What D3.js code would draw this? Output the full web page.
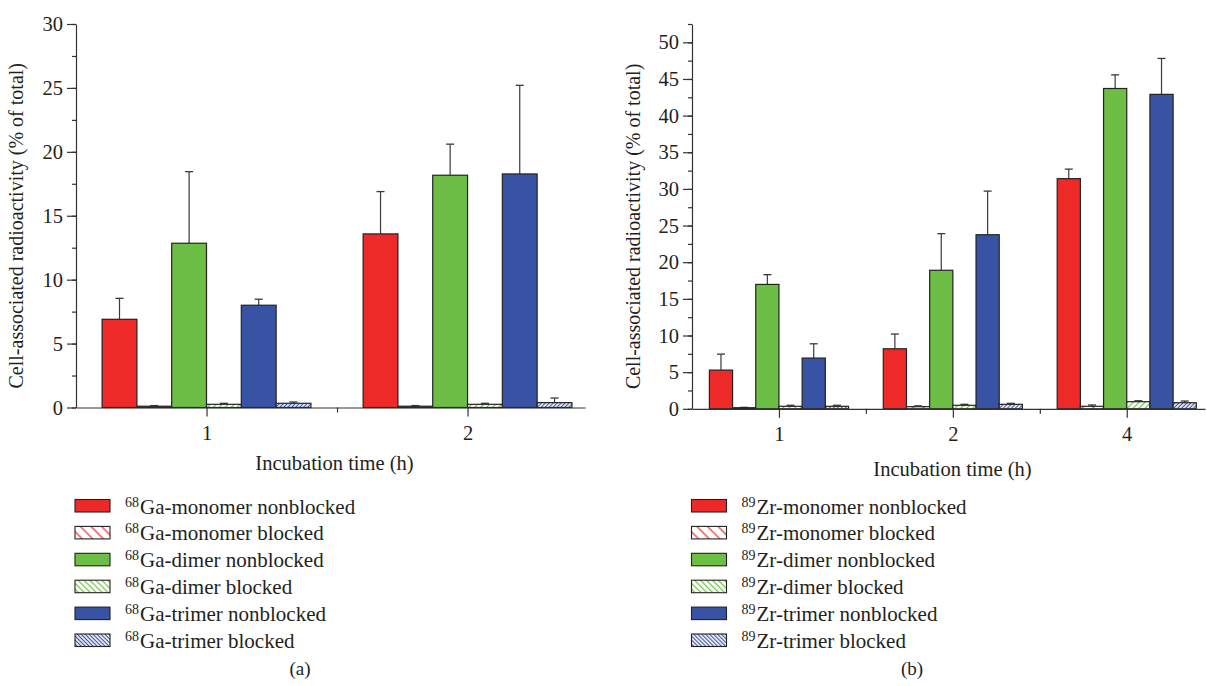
<!DOCTYPE html>
<html>
<head>
<meta http-equiv="content-Type" content="text/html; charset=utf-8"/>
<style>
  body { margin: 0; background: #fff; }
  text { font-family: "Liberation Serif", "Times New Roman", serif; fill: #231f20; }
  .axis path, .axis line { stroke: #333; stroke-width: 1.2; }
</style>
</head>
<body>
<div id="fig"></div>

<script src="https://cdn.jsdelivr.net/npm/d3@7"></script>
<script>

// ---------- data ----------

var seriesNames = ["monomer nonblocked", "monomer blocked",
                   "dimer nonblocked", "dimer blocked",
                   "trimer nonblocked", "trimer blocked"];

// panel (a): 68Ga
var gaTimes = ["1", "2"];
var gaMean = [
  [6.9, 0.1, 12.85, 0.25, 8.0, 0.33],
  [13.58, 0.1, 18.17, 0.25, 18.27, 0.38]
];
var gaErr = [
  [8.54, 0.15, 18.45, 0.33, 8.47, 0.43],
  [16.89, 0.15, 20.6, 0.33, 25.2, 0.74]
];
var gaTicks = [0, 5, 10, 15, 20, 25, 30];

// panel (b): 89Zr
var zrTimes = ["1", "2", "4"];
var zrMean = [
  [5.28, 0.15, 16.97, 0.34, 6.92, 0.34],
  [8.19, 0.29, 18.9, 0.48, 23.75, 0.61],
  [31.4, 0.34, 43.7, 0.97, 42.9, 0.83]
];
var zrErr = [
  [7.46, 0.2, 18.3, 0.48, 8.87, 0.48],
  [10.2, 0.4, 23.9, 0.61, 29.7, 0.75],
  [32.7, 0.52, 45.56, 1.1, 47.8, 1.06]
];
var zrTicks = [0, 5, 10, 15, 20, 25, 30, 35, 40, 45, 50];

var colors = ["#ee2a29", "#ee2a29", "#6dbe45", "#6dbe45", "#3953a4", "#3953a4"];
var hatched = [false, true, false, true, false, true];
var hatchGap = [0, 7.5, 0, 4.2, 0, 2.8];

// ---------- svg ----------

var svg = d3.select("#fig").append("svg")
    .attr("width", 1207)
    .attr("height", 686);

var defs = svg.append("defs");

// hatch patterns: "/" in bars, "\" in legend keys
function makeHatch(id, color, gap, angle) {
  var p = defs.append("pattern")
      .attr("id", id)
      .attr("patternUnits", "userSpaceOnUse")
      .attr("width", gap)
      .attr("height", gap)
      .attr("patternTransform", "rotate(" + angle + ")");
  p.append("rect").attr("width", gap).attr("height", gap).attr("fill", "#fff");
  p.append("line")
      .attr("x1", gap / 2).attr("y1", 0)
      .attr("x2", gap / 2).attr("y2", gap)
      .attr("stroke", color)
      .attr("stroke-width", 1.2);
}
seriesNames.forEach(function(s, j) {
  if (hatched[j]) {
    makeHatch("bar" + j, colors[j], hatchGap[j], 45);
    makeHatch("leg" + j, colors[j], hatchGap[j], -45);
  }
});

function fillFor(j, kind) {
  return hatched[j] ? "url(#" + kind + j + ")" : colors[j];
}

// ---------- one panel ----------

function panel(opt) {
  var g = svg.append("g");
  var n = opt.times.length;

  var x = d3.scaleLinear()
      .domain([-0.5, opt.xmax])
      .range([opt.left, opt.right]);
  var y = d3.scaleLinear()
      .domain([0, opt.ymax])
      .range([opt.bottom, opt.top]);

  var groupW = 0.8;
  var barW = groupW / seriesNames.length;

  // bars
  opt.mean.forEach(function(row, i) {
    row.forEach(function(v, j) {
      var x0 = x(i - groupW / 2 + j * barW),
          x1 = x(i - groupW / 2 + (j + 1) * barW);
      // error bar (upper only)
      var xc = (x0 + x1) / 2;
      g.append("line")
          .attr("x1", xc).attr("x2", xc)
          .attr("y1", y(v)).attr("y2", y(opt.err[i][j]))
          .attr("stroke", "#3a3a3a").attr("stroke-width", 1.2);
      g.append("line")
          .attr("x1", xc - 4).attr("x2", xc + 4)
          .attr("y1", y(opt.err[i][j])).attr("y2", y(opt.err[i][j]))
          .attr("stroke", "#3a3a3a").attr("stroke-width", 1.3);
      g.append("rect")
          .attr("x", x0)
          .attr("y", y(v))
          .attr("width", x1 - x0)
          .attr("height", y(0) - y(v))
          .attr("fill", fillFor(j, "bar"))
          .attr("stroke", "#222")
          .attr("stroke-width", 1.2);
    });
  });

  // y axis, major + minor ticks
  var minor = d3.range(0, opt.ymax + 0.01, 2.5);
  g.append("g")
      .attr("class", "axis")
      .attr("transform", "translate(" + opt.left + ",0)")
      .call(d3.axisLeft(y).tickValues(minor).tickSize(4).tickFormat(""))
      .call(function(a) { a.select(".domain").remove(); });
  g.append("g")
      .attr("class", "axis")
      .attr("transform", "translate(" + opt.left + ",0)")
      .call(d3.axisLeft(y).tickValues(opt.ticks).tickSize(9).tickPadding(4).tickSizeOuter(0))
      .call(function(a) {
        a.selectAll("text").style("font-size", "20.5px")
            .style("font-family", "Liberation Serif").attr("fill", "#231f20");
      });

  // x axis
  var xMinor = d3.range(0.5, opt.xmax, 1);
  g.append("g")
      .attr("class", "axis")
      .attr("transform", "translate(0," + opt.bottom + ")")
      .call(d3.axisBottom(x).tickValues(xMinor).tickSize(5).tickFormat(""))
      .call(function(a) { a.select(".domain").remove(); });
  g.append("g")
      .attr("class", "axis")
      .attr("transform", "translate(0," + opt.bottom + ")")
      .call(d3.axisBottom(x).tickValues(d3.range(n)).tickSize(9).tickSizeOuter(0)
             .tickPadding(9)
             .tickFormat(function(d) { return opt.times[d]; }))
      .call(function(a) {
        a.selectAll("text").style("font-size", "20.5px")
            .style("font-family", "Liberation Serif").attr("fill", "#231f20");
      });

  // axis titles
  g.append("text")
      .attr("transform", "translate(" + opt.ytitleX + "," + ((opt.top + opt.bottom) / 2 + 10) + ") rotate(-90)")
      .attr("text-anchor", "middle")
      .style("font-size", "20px")
      .text("Cell-associated radioactivity (% of total)");
  g.append("text")
      .attr("x", (opt.left + opt.right) / 2 + 4)
      .attr("y", opt.xtitleY)
      .attr("text-anchor", "middle")
      .style("font-size", "20.5px")
      .text("Incubation time (h)");

  // legend
  var leg = g.append("g")
      .attr("transform", "translate(" + opt.legX + "," + opt.legY + ")");
  seriesNames.forEach(function(s, j) {
    var row = leg.append("g").attr("transform", "translate(0," + (j * 26.9) + ")");
    row.append("rect")
        .attr("x", 0).attr("y", 0)
        .attr("width", 35).attr("height", 12.5)
        .attr("fill", fillFor(j, "leg"))
        .attr("stroke", "#222")
        .attr("stroke-width", 1.1);
    var t = row.append("text")
        .attr("x", 50)
        .attr("y", 14)
        .style("font-size", "21px");
    t.append("tspan")
        .attr("dy", -7)
        .style("font-size", "14px")
        .text(opt.iso);
    t.append("tspan")
        .attr("dy", 7)
        .attr("dx", 1)
        .text(opt.elem + "-" + s);
  });

  // panel letter
  g.append("text")
      .attr("x", opt.letterX)
      .attr("y", 675)
      .attr("text-anchor", "middle")
      .style("font-size", "19px")
      .text(opt.letter);
}

panel({
  times: gaTimes, mean: gaMean, err: gaErr, ticks: gaTicks,
  left: 76, right: 585, top: 24, bottom: 407.5,
  xmax: 1.45, ymax: 30,
  ytitleX: 23, xtitleY: 470,
  legX: 75, legY: 499.5,
  iso: "68", elem: "Ga",
  letter: "(a)", letterX: 300
});

panel({
  times: zrTimes, mean: zrMean, err: zrErr, ticks: zrTicks,
  left: 692, right: 1205, top: 24, bottom: 408.8,
  xmax: 2.45, ymax: 52.5,
  ytitleX: 640, xtitleY: 476,
  legX: 691.5, legY: 499.5,
  iso: "89", elem: "Zr",
  letter: "(b)", letterX: 912
});

</script>
</body>
</html>
